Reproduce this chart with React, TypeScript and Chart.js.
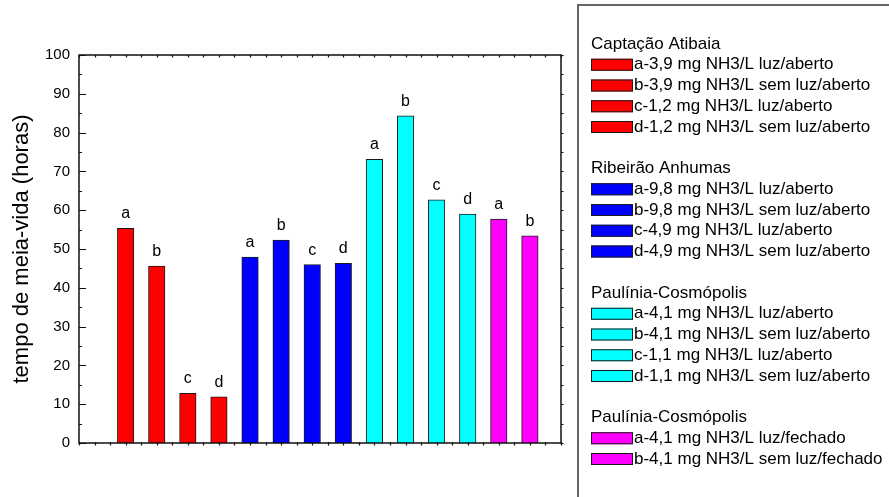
import { useEffect, useRef } from "react";
import { Chart, registerables } from "chart.js";

Chart.register(...registerables);

const FONT = "'Liberation Sans', Arial, Helvetica, sans-serif";

// Sites (one colour per group of bars / legend block)
const groupTitles = ["Captação Atibaia", "Ribeirão Anhumas", "Paulínia-Cosmópolis", "Paulínia-Cosmópolis"];
const groupColors = ["#ff0000", "#0000ff", "#00ffff", "#ff00ff"];

// Half-life (hours) per condition
const atibaiaLabels = [
  "a-3,9 mg NH3/L luz/aberto",
  "b-3,9 mg NH3/L sem luz/aberto",
  "c-1,2 mg NH3/L luz/aberto",
  "d-1,2 mg NH3/L sem luz/aberto",
];
const atibaiaValues = [55.3, 45.6, 12.8, 11.9];

const anhumasLabels = [
  "a-9,8 mg NH3/L luz/aberto",
  "b-9,8 mg NH3/L sem luz/aberto",
  "c-4,9 mg NH3/L luz/aberto",
  "d-4,9 mg NH3/L sem luz/aberto",
];
const anhumasValues = [47.9, 52.3, 46.0, 46.3];

const paulAbertoLabels = [
  "a-4,1 mg NH3/L luz/aberto",
  "b-4,1 mg NH3/L sem luz/aberto",
  "c-1,1 mg NH3/L luz/aberto",
  "d-1,1 mg NH3/L sem luz/aberto",
];
const paulAbertoValues = [73.1, 84.3, 62.7, 59.0];

const paulFechadoLabels = ["a-4,1 mg NH3/L luz/fechado", "b-4,1 mg NH3/L sem luz/fechado"];
const paulFechadoValues = [57.7, 53.4];

const yTickValues = [0, 10, 20, 30, 40, 50, 60, 70, 80, 90, 100];
const yTitle = "tempo de meia-vida (horas)";

const groupLabels = [atibaiaLabels, anhumasLabels, paulAbertoLabels, paulFechadoLabels];
const groupValues = [atibaiaValues, anhumasValues, paulAbertoValues, paulFechadoValues];

function buildDatasets() {
  let slot = 0;
  return groupValues.map((values, gi) => ({
    label: groupTitles[gi],
    data: values.map((v) => {
      slot += 1;
      return { x: slot, y: v };
    }),
    backgroundColor: groupColors[gi],
    borderColor: "#1a1a1a",
    borderWidth: 1,
    barThickness: 16.5,
    grouped: false,
  }));
}

const decorations = {
  id: "decorations",
  afterDatasetsDraw(chart: any) {
    const { ctx, chartArea: ca, scales } = chart;
    const xs = scales.x;
    const ys = scales.y;
    ctx.save();

    // letter above each bar
    ctx.font = `16px ${FONT}`;
    ctx.fillStyle = "#000";
    ctx.textAlign = "center";
    ctx.textBaseline = "alphabetic";
    chart.data.datasets.forEach((_: any, di: number) => {
      const meta = chart.getDatasetMeta(di);
      meta.data.forEach((el: any, i: number) => {
        const letter = groupLabels[di][i].split("-")[0];
        ctx.fillText(letter, el.x, el.y - 10);
      });
    });

    // axis frame
    ctx.strokeStyle = "#111";
    ctx.lineWidth = 1.5;
    ctx.strokeRect(ca.left, ca.top, ca.right - ca.left, ca.bottom - ca.top);

    ctx.lineWidth = 1.2;
    ctx.beginPath();
    // left axis: major ticks every 10, minor every 5, pointing inward
    for (let v = ys.min; v <= ys.max; v += 5) {
      const py = Math.round(ys.getPixelForValue(v)) + 0.5;
      const len = v % 10 === 0 ? 7 : 3;
      ctx.moveTo(ca.left, py);
      ctx.lineTo(ca.left + len, py);
      // right axis: short outward ticks
      ctx.moveTo(ca.right, py);
      ctx.lineTo(ca.right + 2.5, py);
    }
    // top and bottom axes: short ticks every half unit
    for (let v = xs.min; v <= xs.max + 1e-9; v += 0.5) {
      const px = Math.round(xs.getPixelForValue(v)) + 0.5;
      ctx.moveTo(px, ca.top);
      ctx.lineTo(px, ca.top + 2.5);
      ctx.moveTo(px, ca.bottom - 1);
      ctx.lineTo(px, ca.bottom + 2.5);
    }
    ctx.stroke();
    ctx.restore();
  },
  afterDraw(chart: any) {
    const { ctx } = chart;
    ctx.save();

    // legend box (open to the right and bottom)
    ctx.strokeStyle = "#666";
    ctx.lineWidth = 2;
    ctx.beginPath();
    ctx.moveTo(578, 500);
    ctx.lineTo(578, 5);
    ctx.lineTo(892, 5);
    ctx.stroke();

    const lineH = 20.75;
    let row = 0;
    const y0 = 44;
    ctx.font = `17px ${FONT}`;
    ctx.textAlign = "left";
    ctx.textBaseline = "middle";
    groupTitles.forEach((title, gi) => {
      ctx.fillStyle = "#000";
      ctx.fillText(title, 591, y0 + row * lineH);
      row += 1;
      groupLabels[gi].forEach((label) => {
        const cy = y0 + row * lineH;
        ctx.fillStyle = groupColors[gi];
        ctx.fillRect(591, cy - 6, 42, 12);
        ctx.strokeStyle = "#1a1a1a";
        ctx.lineWidth = 1;
        ctx.strokeRect(591.5, cy - 5.5, 41, 11);
        ctx.fillStyle = "#000";
        ctx.fillText(label, 634, cy);
        row += 1;
      });
      row += 1;
    });
    ctx.restore();
  },
};

export default function App() {
  const canvasRef = useRef<HTMLCanvasElement | null>(null);

  useEffect(() => {
    const canvas = canvasRef.current;
    if (!canvas) return;
    const chart = new Chart(canvas, {
      type: "bar",
      data: { datasets: buildDatasets() as any },
      plugins: [decorations],
      options: {
        responsive: false,
        animation: false,
        devicePixelRatio: 1,
        layout: { padding: { left: 0, top: 55, right: 328, bottom: 54 } },
        plugins: { legend: { display: false }, tooltip: { enabled: false } },
        scales: {
          x: {
            type: "linear",
            min: -0.5,
            max: 15,
            offset: false,
            display: false,
          },
          y: {
            min: 0,
            max: 100,
            afterBuildTicks: (scale: any) => {
              scale.ticks = yTickValues.map((v) => ({ value: v }));
            },
            afterFit: (scale: any) => {
              scale.width = 79;
            },
            grid: { display: false, drawTicks: false },
            border: { display: false },
            ticks: {
              padding: 9,
              color: "#000",
              font: { family: FONT, size: 15 },
            },
            title: {
              display: true,
              text: yTitle,
              color: "#000",
              font: { family: FONT, size: 22 },
              padding: { top: 9, bottom: 0 },
            },
          },
        },
      },
    });
    return () => chart.destroy();
  }, []);

  return (
    <div style={{ position: "absolute", left: 0, top: 0, width: 889, height: 497, background: "#fff" }}>
      <canvas ref={canvasRef} width={889} height={497} />
    </div>
  );
}
